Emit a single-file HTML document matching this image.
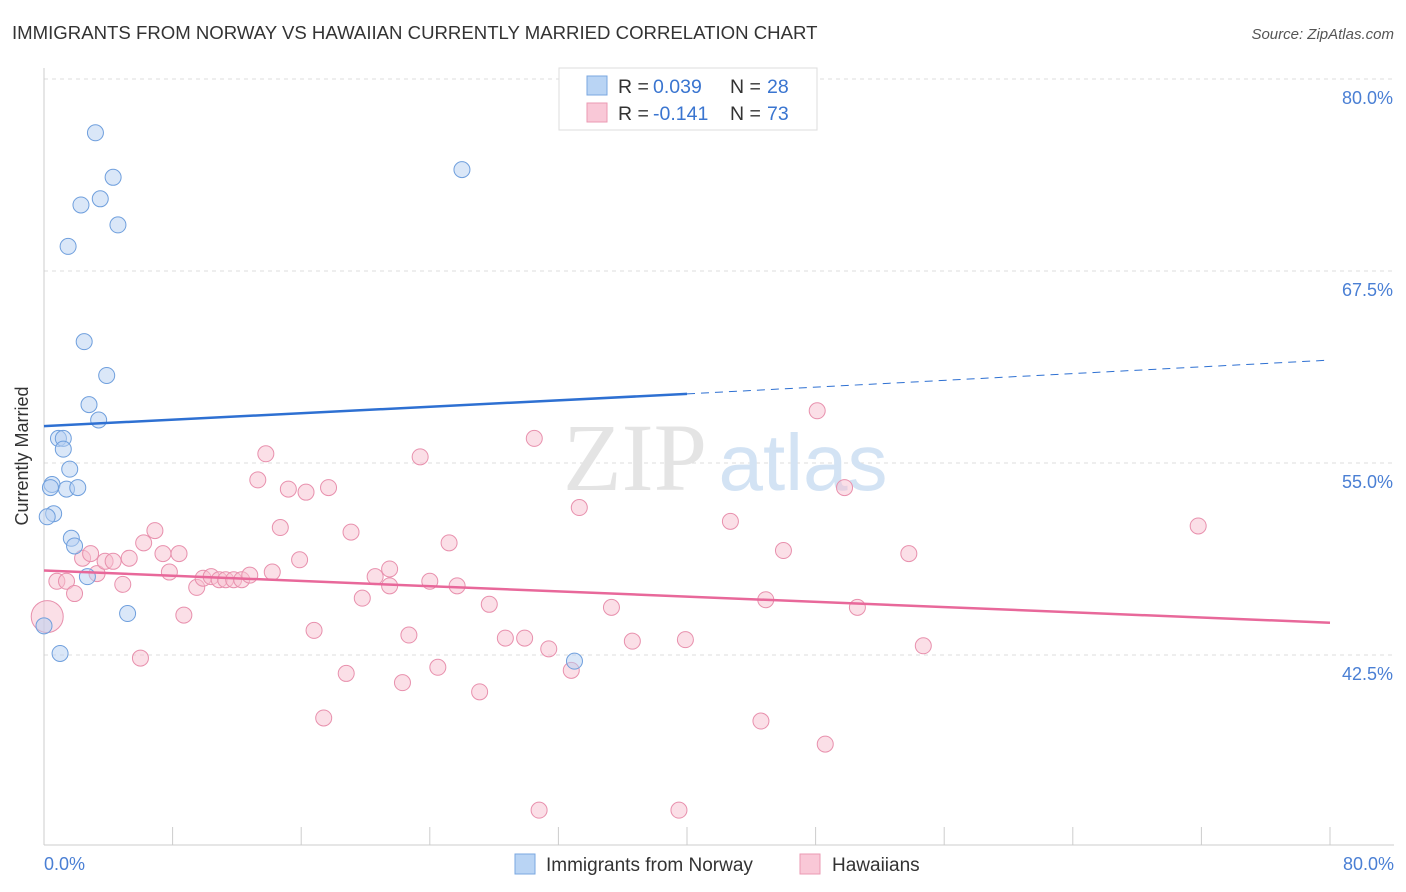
<!DOCTYPE html>
<html><head><meta charset="utf-8"><style>
body{margin:0;background:#fff;font-family:"Liberation Sans",sans-serif}
svg{display:block}
</style></head><body>
<svg id="c" width="1406" height="892" xmlns="http://www.w3.org/2000/svg">
<text x="12" y="39" font-size="18.6" fill="#333">IMMIGRANTS FROM NORWAY VS HAWAIIAN CURRENTLY MARRIED CORRELATION CHART</text>
<text x="1394" y="39" font-size="15" fill="#555" font-style="italic" text-anchor="end">Source: ZipAtlas.com</text>
<g id="grid"></g>
<g><text x="635" y="490" font-size="96" fill="#e4e4e4" font-family="Liberation Serif,serif" text-anchor="middle">ZIP</text><text x="803" y="490" font-size="80" fill="#d3e3f4" text-anchor="middle">atlas</text></g>
<line x1="44" y1="68" x2="44" y2="845" stroke="#ccc"/>
<line x1="44" y1="845" x2="1394" y2="845" stroke="#ccc"/>
<g id="ticks"></g>
<text x="28" y="456" font-size="18" fill="#333" text-anchor="middle" transform="rotate(-90 28 456)">Currently Married</text>
<text x="44" y="870" font-size="18" fill="#4a7fd4">0.0%</text>
<text x="1394" y="870" font-size="18" fill="#4a7fd4" text-anchor="end">80.0%</text>
<g id="pts"></g>
<g id="lines"></g>
<g font-size="19.5" fill="#333">
<rect x="559" y="68" width="258" height="62" fill="#fff" stroke="#ddd"/>
<rect x="587" y="76" width="20" height="19" fill="#b9d4f4" stroke="#7aa7e0"/>
<rect x="587" y="103" width="20" height="19" fill="#f9c8d7" stroke="#eb9ab3"/>
<text x="618" y="93">R =</text><text x="653" y="93" fill="#3a75d0">0.039</text>
<text x="730" y="93">N =</text><text x="767" y="93" fill="#3a75d0">28</text>
<text x="618" y="120">R =</text><text x="653" y="120" fill="#3a75d0">-0.141</text>
<text x="730" y="120">N =</text><text x="767" y="120" fill="#3a75d0">73</text>
</g>
<g>
<rect x="515" y="854" width="20" height="20" fill="#b9d4f4" stroke="#7aa7e0"/>
<text x="546" y="871" font-size="19" fill="#333">Immigrants from Norway</text>
<rect x="800" y="854" width="20" height="20" fill="#f9c8d7" stroke="#eb9ab3"/>
<text x="832" y="871" font-size="19" fill="#333">Hawaiians</text>
</g>
</svg>
<script>
const yTicks=[80,67.5,55,42.5];
const xTickVals=[0,8,16,24,32,40,48,56,64,72,80];
const blueX=[3.2,4.3,3.5,2.3,4.6,1.5,26,2.5,3.9,2.8,3.4,0.9,1.2,1.2,1.6,0.5,0.4,1.4,2.1,0.6,0.2,1.7,1.9,2.7,5.2,0,1,33];
const blueY=[76.5,73.6,72.2,71.8,70.5,69.1,74.1,62.9,60.7,58.8,57.8,56.6,56.6,55.9,54.6,53.6,53.4,53.3,53.4,51.7,51.5,50.1,49.6,47.6,45.2,44.4,42.6,42.1];
const pinkX=[0.2,0.8,1.4,1.9,2.4,2.9,3.3,3.8,4.3,4.9,5.3,6,6.2,6.9,7.4,7.8,8.4,8.7,9.5,9.9,10.4,10.9,11.3,11.8,12.3,12.8,13.3,13.8,14.2,14.7,15.2,15.9,16.3,16.8,17.7,18.8,19.1,17.4,19.8,20.6,21.5,21.5,22.3,22.7,23.4,24,24.5,25.2,25.7,27.1,27.7,28.7,29.9,30.5,31.4,30.8,32.8,33.3,35.3,36.6,39.5,39.9,42.7,44.6,44.9,46,48.1,48.6,49.8,50.6,53.8,54.7,71.8];
const pinkY=[45,47.3,47.3,46.5,48.8,49.1,47.8,48.6,48.6,47.1,48.8,42.3,49.8,50.6,49.1,47.9,49.1,45.1,46.9,47.5,47.6,47.4,47.4,47.4,47.4,47.7,53.9,55.6,47.9,50.8,53.3,48.7,53.1,44.1,53.4,41.3,50.5,38.4,46.2,47.6,48.1,47,40.7,43.8,55.4,47.3,41.7,49.8,47,40.1,45.8,43.6,43.6,56.6,42.9,32.4,41.5,52.1,45.6,43.4,32.4,43.5,51.2,38.2,46.1,49.3,58.4,36.7,53.4,45.6,49.1,43.1,50.9];
const S="http://www.w3.org/2000/svg",svg=document.getElementById('c');
const X=v=>44+v*16.075, Y=v=>79+(80-v)*15.36;
const grid=document.getElementById('grid');
yTicks.forEach(t=>{
 const l=document.createElementNS(S,'line');
 
 
 l.setAttribute('x1',44);l.setAttribute('x2',1394);l.setAttribute('y1',Y(t));l.setAttribute('y2',Y(t));
 l.setAttribute('stroke','#ddd');l.setAttribute('stroke-dasharray','4 4');grid.appendChild(l);
 const tx=document.createElementNS(S,'text');
 
 
 tx.setAttribute('x',1393);tx.setAttribute('y',Y(t)+25);tx.setAttribute('text-anchor','end');
 tx.setAttribute('font-size','18');tx.setAttribute('fill','#4a7fd4');tx.textContent=t.toFixed(1)+'%';grid.appendChild(tx);
});
const tk=document.getElementById('ticks');
xTickVals.forEach(t=>{
 const l=document.createElementNS(S,'line');
 
 
 l.setAttribute('x1',X(t));l.setAttribute('x2',X(t));l.setAttribute('y1',827);l.setAttribute('y2',845);l.setAttribute('stroke','#ccc');tk.appendChild(l);
});
const pts=document.getElementById('pts');
function dots(xs,ys,fill,stroke,name){xs.forEach((x,i)=>{
 const c=document.createElementNS(S,'circle');
 
 
 c.setAttribute('cx',X(x));c.setAttribute('cy',Y(ys[i]));c.setAttribute('r',(name=='hawaiian-point'&&i==0)?16:8);
 c.setAttribute('fill',fill);c.setAttribute('fill-opacity','0.5');c.setAttribute('stroke',stroke);pts.appendChild(c);});}
dots(pinkX,pinkY,'#f7bfd0','#e890ad','hawaiian-point');
dots(blueX,blueY,'#b5d0f2','#6f9fdd','norway-point');
const ln=document.getElementById('lines');
function line(x1,y1,x2,y2,col,dash,name){const l=document.createElementNS(S,'line');
 
 
 l.setAttribute('x1',X(x1));l.setAttribute('y1',Y(y1));l.setAttribute('x2',X(x2));l.setAttribute('y2',Y(y2));
 l.setAttribute('stroke',col);l.setAttribute('stroke-width',dash?1:2.5);if(dash)l.setAttribute('stroke-dasharray','8 6');ln.appendChild(l);}
line(0,57.4,40,59.5,'#2e70d2',false,'norway-trend-line');
line(40,59.5,80,61.7,'#2e70d2',true,'norway-trend-extension');
line(0,48,80,44.6,'#e8689a',false,'hawaiian-trend-line');
</script>
</body></html>
